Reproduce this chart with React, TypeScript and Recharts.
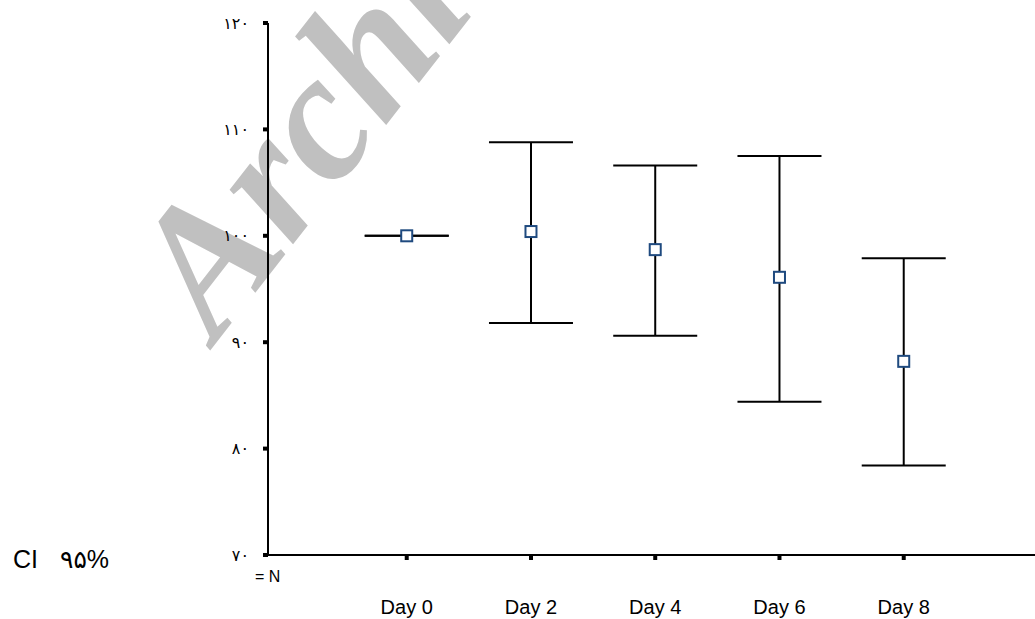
import React from 'react';
import { ScatterChart, Scatter, XAxis, YAxis, ErrorBar } from 'recharts';

const dayValues = [0, 2, 4, 6, 8];
const dayLabels = ['Day 0', 'Day 2', 'Day 4', 'Day 6', 'Day 8'];
const meanValues = [100, 100.4, 98.7, 96.1, 88.2];
const upperValues = [100, 108.8, 106.6, 107.5, 97.9];
const lowerValues = [100, 91.8, 90.6, 84.4, 78.4];
const yTickValues = [70, 80, 90, 100, 110, 120];
const yTickLabels = ['۷۰', '۸۰', '۹۰', '۱۰۰', '۱۱۰', '۱۲۰'];

const data = dayValues.map((d, i) => ({
  day: d,
  mean: meanValues[i],
  ci: [meanValues[i] - lowerValues[i], upperValues[i] - meanValues[i]],
}));

const SquareMarker = (props: any) => {
  const { cx, cy } = props;
  if (cx == null || cy == null) return null;
  return (
    <rect x={cx - 5.5} y={cy - 5.5} width={11} height={11} fill="#fff" stroke="#1F4A7F" strokeWidth={2} />
  );
};

export default function App() {
  return (
    <div style={{ position: 'absolute', left: 0, top: 0, width: 1035, height: 619, background: '#fff' }}>
      <svg width={1035} height={619} style={{ position: 'absolute', left: 0, top: 0 }}>
        <text
          x={216}
          y={343}
          transform="rotate(-52 216 343)"
          fontFamily="'Times New Roman', 'Liberation Serif', 'DejaVu Serif', serif"
          fontWeight="bold"
          fontStyle="italic"
          fontSize={182}
          fill="#C0C0C0"
        >
          Archive of SID
        </text>
        <text x={13} y={568} fontFamily="Liberation Sans" fontSize={25} fill="#000">CI</text>
        <text x={60} y={568} fontFamily="Liberation Sans, DejaVu Sans" fontSize={25} fill="#000">۹۵%</text>
        <text x={255} y={582} fontFamily="Liberation Sans" fontSize={16} fill="#000">= N</text>
      </svg>
      <div style={{ position: 'absolute', left: 0, top: 0 }}>
        <ScatterChart width={1035} height={619} margin={{ top: 23, right: 0, bottom: 0, left: 0 }}>
          <XAxis
            dataKey="day"
            type="number"
            domain={[-2.233, 10.113]}
            allowDataOverflow
            ticks={dayValues}
            interval={0}
            tickFormatter={(v: number) => dayLabels[dayValues.indexOf(v)] ?? ''}
            height={64}
            tickSize={5}
            tickMargin={40}
            axisLine={{ stroke: '#000', strokeWidth: 2 }}
            tickLine={{ stroke: '#000', strokeWidth: 4 }}
            tick={{ fill: '#000', fontSize: 20, fontFamily: 'Liberation Sans' }}
          />
          <YAxis
            dataKey="mean"
            type="number"
            domain={[70, 120]}
            ticks={yTickValues}
            interval={0}
            tickFormatter={(v: number) => yTickLabels[yTickValues.indexOf(v)] ?? ''}
            width={268}
            tickSize={5}
            tickMargin={14}
            axisLine={{ stroke: '#000', strokeWidth: 2 }}
            tickLine={{ stroke: '#000', strokeWidth: 4 }}
            tick={{ fill: '#000', fontSize: 16, fontFamily: 'DejaVu Sans' }}
          />
          <Scatter data={data} dataKey="mean" shape={SquareMarker} isAnimationActive={false}>
            <ErrorBar dataKey="ci" direction="y" width={42} stroke="#000" strokeWidth={2} isAnimationActive={false} />
          </Scatter>
        </ScatterChart>
      </div>
    </div>
  );
}
